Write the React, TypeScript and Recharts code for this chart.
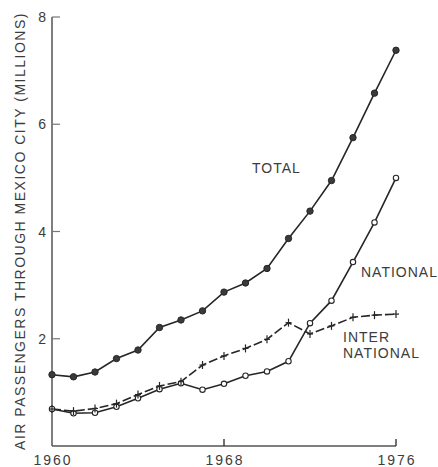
import React from 'react';
import { LineChart, Line, XAxis, YAxis } from 'recharts';

const years = [1960, 1961, 1962, 1963, 1964, 1965, 1966, 1967, 1968, 1969, 1970, 1971, 1972, 1973, 1974, 1975, 1976];
const total = [1.33, 1.29, 1.38, 1.63, 1.79, 2.21, 2.35, 2.52, 2.87, 3.04, 3.31, 3.87, 4.38, 4.95, 5.75, 6.58, 7.38];
const national = [0.69, 0.61, 0.62, 0.73, 0.89, 1.06, 1.17, 1.05, 1.16, 1.31, 1.39, 1.58, 2.29, 2.71, 3.43, 4.17, 5.0];
const international = [0.69, 0.65, 0.7, 0.79, 0.96, 1.12, 1.2, 1.51, 1.68, 1.82, 1.99, 2.3, 2.09, 2.24, 2.4, 2.44, 2.46];
const xTicks = [1960, 1968, 1976];
const yTicks = [2, 4, 6, 8];

const data = years.map((year, i) => ({
  year,
  total: total[i],
  national: national[i],
  international: international[i],
}));

const INK = '#262626';
const TEXT = '#3c3c3c';
const FONT = '"Liberation Sans", Arial, sans-serif';

const YTick = (props: any) => {
  const { x, y, payload } = props;
  return (
    <g>
      <line x1={x + 6} y1={y} x2={x + 14} y2={y} stroke="#777" strokeWidth={1.2} />
      <text x={x} y={y + 5} textAnchor="end" fontSize={14} fill={TEXT} fontFamily={FONT}>
        {payload.value}
      </text>
    </g>
  );
};

const XTick = (props: any) => {
  const { x, y, payload, index } = props;
  return (
    <g>
      {index > 0 && <line x1={x} y1={y - 2} x2={x} y2={y - 9} stroke={INK} strokeWidth={1.3} />}
      <text x={x + 1} y={y + 17} textAnchor="middle" fontSize={14} letterSpacing={2} fill={TEXT} fontFamily={FONT}>
        {payload.value}
      </text>
    </g>
  );
};

const FilledDot = (props: any) => {
  const { cx, cy } = props;
  return <circle cx={cx} cy={cy} r={3.2} fill="#3a3a3a" stroke={INK} strokeWidth={1} />;
};

const OpenDot = (props: any) => {
  const { cx, cy } = props;
  return <circle cx={cx} cy={cy} r={2.7} fill="#fff" stroke={INK} strokeWidth={1.1} />;
};

const PlusDot = (props: any) => {
  const { cx, cy } = props;
  return (
    <g>
      <line x1={cx} y1={cy - 4} x2={cx} y2={cy + 4} stroke={INK} strokeWidth={1.2} />
      <line x1={cx - 3} y1={cy} x2={cx + 3} y2={cy} stroke={INK} strokeWidth={1.2} />
    </g>
  );
};

const labelStyle = { fontSize: 14, letterSpacing: 1, fill: TEXT, fontFamily: FONT };

export default function App() {
  return (
    <div style={{ position: 'absolute', left: 0, top: 0, width: 438, height: 467, background: '#fff' }}>
      <LineChart width={438} height={467} data={data} margin={{ top: 17, right: 42, bottom: 0, left: 0 }}>
        <XAxis
          dataKey="year"
          type="number"
          domain={[1960, 1976]}
          ticks={xTicks}
          height={21}
          tickSize={0}
          tickMargin={2}
          tick={<XTick />}
          axisLine={{ stroke: '#555', strokeWidth: 1.5 }}
          tickLine={false}
        />
        <YAxis
          type="number"
          domain={[0, 8]}
          ticks={yTicks}
          width={52}
          tickSize={0}
          tickMargin={6}
          tick={<YTick />}
          axisLine={{ stroke: '#555', strokeWidth: 1.5 }}
          tickLine={false}
        />
        <Line
          dataKey="total"
          type="linear"
          stroke={INK}
          strokeWidth={1.6}
          dot={<FilledDot />}
          isAnimationActive={false}
        />
        <Line
          dataKey="national"
          type="linear"
          stroke={INK}
          strokeWidth={1.6}
          dot={<OpenDot />}
          isAnimationActive={false}
        />
        <Line
          dataKey="international"
          type="linear"
          stroke={INK}
          strokeWidth={1.6}
          strokeDasharray="9 3"
          dot={<PlusDot />}
          isAnimationActive={false}
        />
      </LineChart>
      <svg width={438} height={467} style={{ position: 'absolute', left: 0, top: 0, pointerEvents: 'none' }}>
        <text
          transform="translate(25,231) rotate(-90)"
          textAnchor="middle"
          fontSize={14}
          letterSpacing={1.5}
          fill={TEXT}
          fontFamily={FONT}
        >
          AIR PASSENGERS THROUGH MEXICO CITY (MILLIONS)
        </text>
        <text x={252} y={173} {...labelStyle}>TOTAL</text>
        <text x={361} y={277} {...labelStyle}>NATIONAL</text>
        <text x={343} y={342} {...labelStyle}>INTER</text>
        <text x={343} y={358} {...labelStyle}>NATIONAL</text>
      </svg>
    </div>
  );
}
